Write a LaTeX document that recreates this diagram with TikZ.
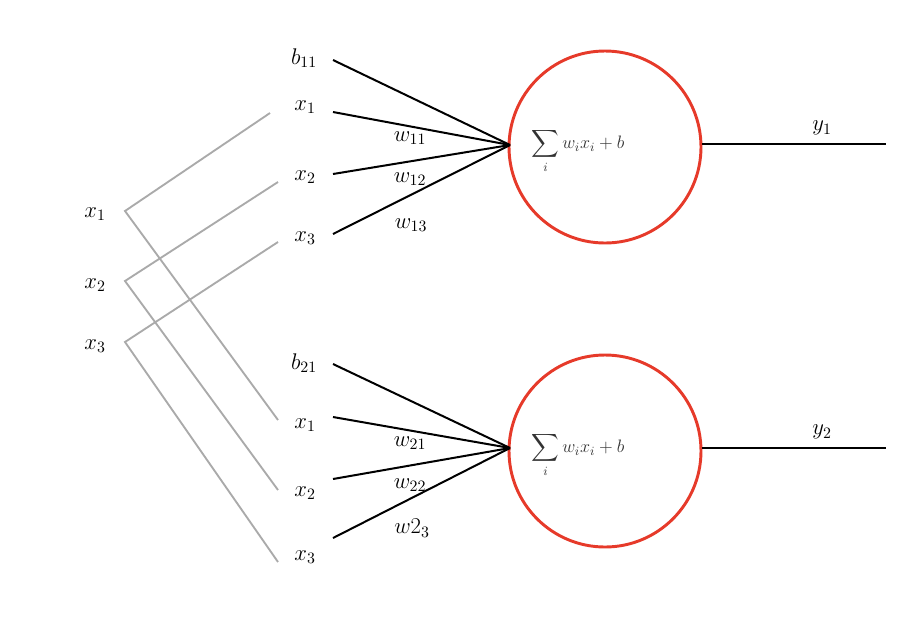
\documentclass[tikz,border=0pt]{standalone}
\usepackage{amsmath}
\usepackage{fix-cm}
\definecolor{nred}{RGB}{230,58,42}
\definecolor{ngrey}{RGB}{170,170,170}
\begin{document}
\begin{tikzpicture}[x=0.75pt,y=-0.75pt,
  lbl/.style={font=\fontsize{17}{20}\selectfont, inner sep=0pt},
  wire/.style={line width=1.5pt, black},
  gwire/.style={line width=1.4pt, color=ngrey},
  neuron/.style={circle, draw=nred, line width=2.2pt, minimum size=192*0.75pt, inner sep=0pt},
  sumtxt/.style={font=\fontsize{13.5}{16}\selectfont, text=black!80}]
\useasboundingbox (0,0) rectangle (906,626);

% input labels and junctions
\node[lbl] (in1) at (95,214) {$x_1$};
\node[lbl] (in2) at (95,285) {$x_2$};
\node[lbl] (in3) at (95,346) {$x_3$};
\coordinate (j1) at (125,211);
\coordinate (j2) at (125,281);
\coordinate (j3) at (125,342);

% upper neuron
\node[neuron] (n1) at (605,147) {};
\node[sumtxt] (s1) at (578,151) {$\displaystyle\sum_i w_ix_i+b$};
\coordinate (c1) at (510,145);
\node[lbl] (b11) at (304,58) {$b_{11}$};
\node[lbl] (ua1) at (305,107) {$x_1$};
\node[lbl] (ua2) at (305,177) {$x_2$};
\node[lbl] (ua3) at (305,238) {$x_3$};
\coordinate (ub0) at (333,60);
\coordinate (ub1) at (333,112);
\coordinate (ub2) at (333,174);
\coordinate (ub3) at (333,234);
\coordinate (ug1) at (270,113);
\coordinate (ug2) at (278,182);
\coordinate (ug3) at (278,242);
\node[lbl] (w11) at (410,138) {$w_{11}$};
\node[lbl] (w12) at (410,179) {$w_{12}$};
\node[lbl] (w13) at (411,225) {$w_{13}$};
\coordinate (e1) at (702,144);
\coordinate (o1) at (886,144);
\node[lbl] (y1) at (822,128) {$y_1$};

% lower neuron
\node[neuron] (n2) at (605,451) {};
\node[sumtxt] (s2) at (578,455) {$\displaystyle\sum_i w_ix_i+b$};
\coordinate (c2) at (510,448);
\node[lbl] (b21) at (304,363) {$b_{21}$};
\node[lbl] (la1) at (305,425) {$x_1$};
\node[lbl] (la2) at (305,493) {$x_2$};
\node[lbl] (la3) at (305,557) {$x_3$};
\coordinate (lb0) at (333,364);
\coordinate (lb1) at (333,417);
\coordinate (lb2) at (333,479);
\coordinate (lb3) at (333,538);
\coordinate (lg1) at (278,420);
\coordinate (lg2) at (278,490);
\coordinate (lg3) at (278,562);
\node[lbl] (w21) at (410,443) {$w_{21}$};
\node[lbl] (w22) at (410,485) {$w_{22}$};
\node[lbl] (w23) at (412,528) {$w2_{3}$};
\coordinate (e2) at (702,448);
\coordinate (o2) at (886,448);
\node[lbl] (y2) at (822,432) {$y_2$};

% grey fan-out
\draw[gwire] (ug1) -- (j1) -- (lg1);
\draw[gwire] (ug2) -- (j2) -- (lg2);
\draw[gwire] (ug3) -- (j3) -- (lg3);

% black wires
\foreach \k in {0,1,2,3} {
  \draw[wire] (ub\k) -- (c1);
  \draw[wire] (lb\k) -- (c2);
}
\draw[wire] (e1) -- (o1);
\draw[wire] (e2) -- (o2);
\end{tikzpicture}
\end{document}
